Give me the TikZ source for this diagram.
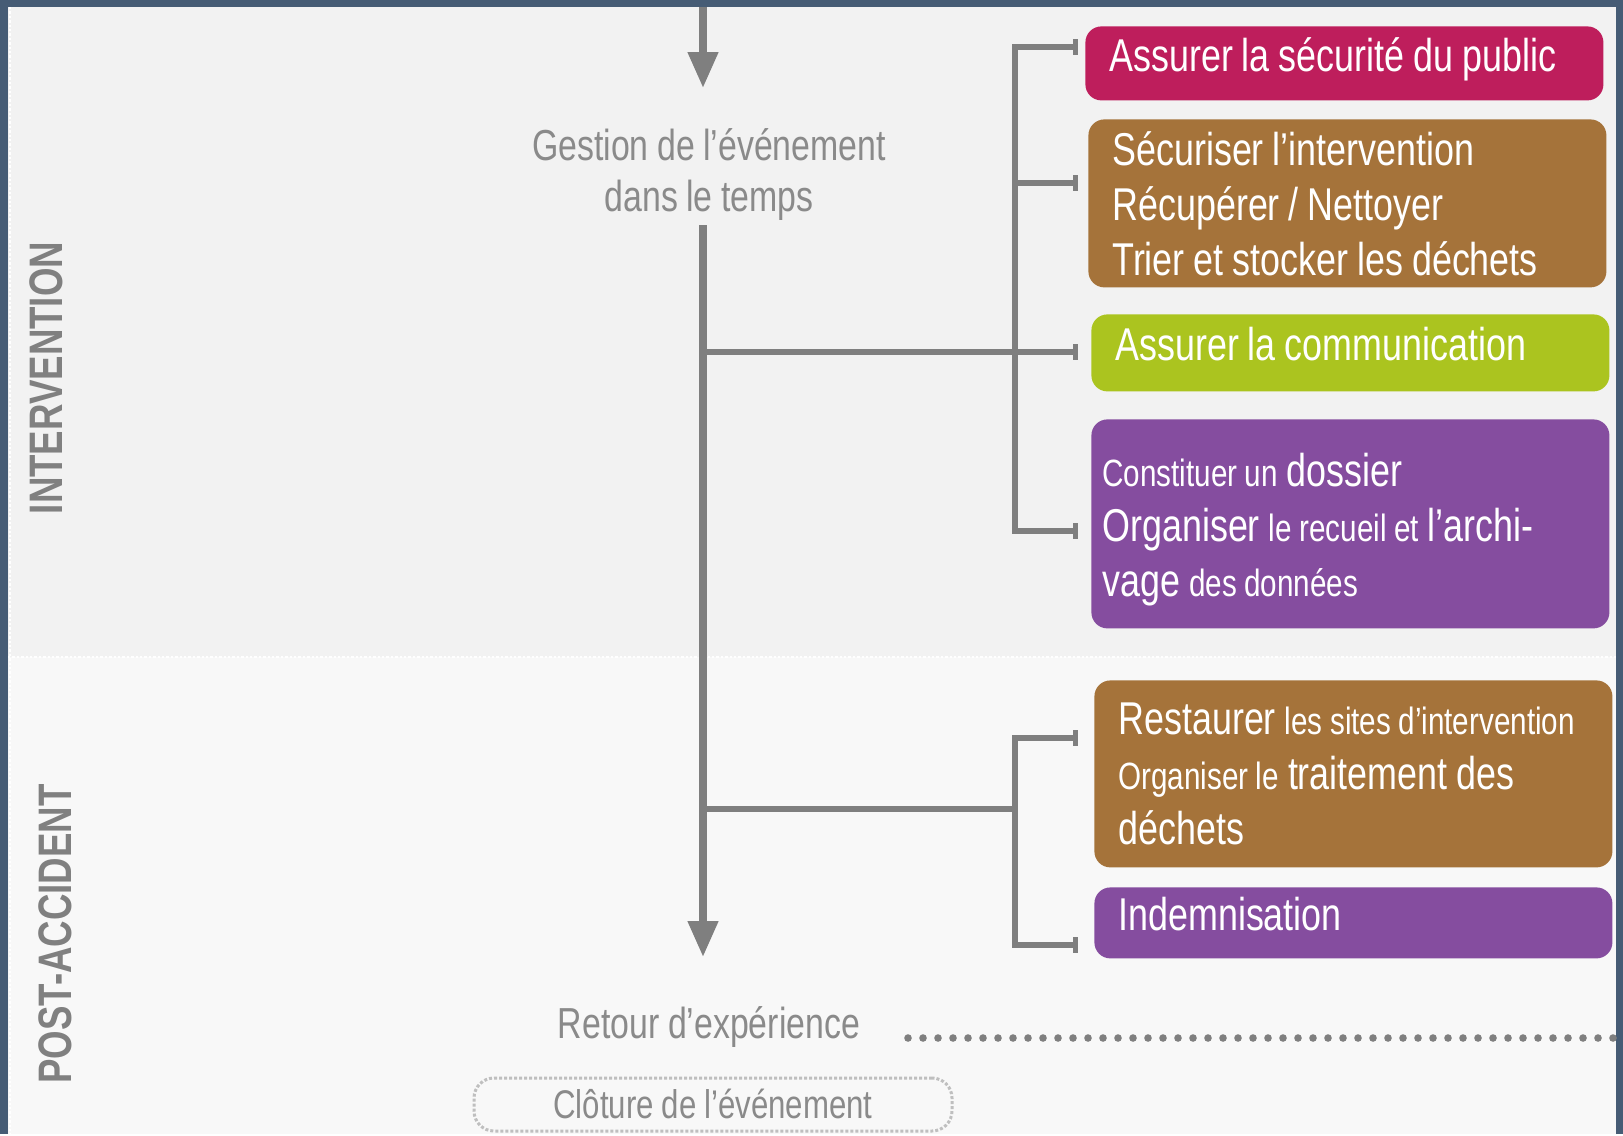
\documentclass[tikz,border=0pt]{standalone}
\usepackage{fontspec}
\setmainfont{Liberation Sans}[FakeStretch=0.78, WordSpace=0.9]
\usetikzlibrary{arrows.meta}

\definecolor{frameblue}{HTML}{465C75}
\definecolor{bgtop}{HTML}{F2F2F2}
\definecolor{bgbottom}{HTML}{F8F8F8}
\definecolor{linegray}{HTML}{7F7F7F}
\definecolor{textgray}{HTML}{8A8A8A}
\definecolor{phasegray}{HTML}{808080}
\definecolor{closegray}{HTML}{BFBFBF}
\definecolor{publicred}{HTML}{BE1E5C}
\definecolor{wastebrown}{HTML}{A5733A}
\definecolor{commgreen}{HTML}{ABC41F}
\definecolor{datapurple}{HTML}{854D9F}

\newcommand\bigtxt{\fontsize{23pt}{27.5pt}\selectfont}
\newcommand\smtxt[1]{{\fontsize{19pt}{27.5pt}\selectfont #1}}

\begin{document}
\begin{tikzpicture}[x=0.5pt, y=-0.5pt,
  taskbox/.style={rounded corners=8pt, anchor=north west, text=white, align=flush left,
    inner xsep=12pt, inner ysep=0pt, text width=235pt, font=\bigtxt},
  oneline/.style={text height=16pt, text depth=8pt},
  timetext/.style={text=textgray, align=center, inner sep=0pt,
    font=\fontsize{21.7pt}{25.5pt}\selectfont},
  phase/.style={text=phasegray, rotate=90, inner sep=0pt,
    font=\fontsize{23.5pt}{28pt}\selectfont\bfseries},
  trunk/.style={linegray, line width=3.8pt},
  branch/.style={linegray, line width=2.6pt},
  tick/.style={branch, -{Bar[width=8pt]}},
]
% Frame and the two phase backgrounds
\fill[frameblue] (0,0) rectangle (1623,1134);
\fill[bgtop] (8,7) rectangle (1616,657);
\fill[bgbottom] (8,657) rectangle (1616,1134);
\draw[white, line width=1.2pt, densely dotted] (8,657) -- (1616,657);
\draw[white, line width=1.2pt, densely dotted] (10,7) -- (10,1134);
\useasboundingbox (0,0) rectangle (1623,1134);

% Phase labels
\node[phase] (interv) at (46,378) {INTERVENTION};
\node[phase] (postacc) at (55,934) {POST-ACCIDENT};

% Time line
\coordinate (entry) at (703,7);
\coordinate (entrytip) at (703,88);
\coordinate (trunkend) at (703,957);
\node[timetext] (gestion) at (709,175) {Gestion de l’événement\\dans le temps};
\draw[trunk, -{Triangle[width=14.5pt,length=18pt]}] (entry) -- (entrytip);
\draw[trunk, shorten <=2pt, -{Triangle[width=14.5pt,length=18pt]}] (gestion.south -| entry) -- (trunkend);

% Intervention tasks
\node[taskbox, oneline, fill=publicred, minimum height=37pt] (public) at (1085,26)
  {Assurer la sécurité du public};
\node[taskbox, fill=wastebrown, minimum height=84pt] (secure) at (1088,119)
  {Sécuriser l’intervention\\Récupérer / Nettoyer\\Trier et stocker les déchets};
\node[taskbox, oneline, fill=commgreen, minimum height=38.5pt] (comm) at (1091,314)
  {Assurer la communication};
\node[taskbox, fill=datapurple, minimum height=104.5pt, inner xsep=5.5pt, text width=248pt] (dossier) at (1091,419)
  {\rule{0pt}{22pt}\smtxt{Constituer un} dossier\\Organiser \smtxt{le recueil et} l’archi-\\vage \smtxt{des données}};

% Post-accident tasks
\node[taskbox, fill=wastebrown, minimum height=93.5pt] (restore) at (1094,680)
  {Restaurer \smtxt{les sites d’intervention}\\\smtxt{Organiser le} traitement des\\déchets};
\node[taskbox, oneline, fill=datapurple, minimum height=35.5pt] (indemn) at (1094,887)
  {Indemnisation};

% Upper bracket
\coordinate (split) at (703,352);
\coordinate (upTop) at (1015,47);
\coordinate (tick2) at (1015,183);
\coordinate (upBot) at (1015,531);
\draw[branch, line cap=rect] (upTop) -- (upBot);
\draw[tick, shorten >=3.5pt] (upTop) -- (upTop -| public.west);
\draw[tick, shorten >=5pt] (tick2) -- (tick2 -| secure.west);
\draw[tick, shorten >=6.5pt] (split) -- (split -| comm.west);
\draw[tick, shorten >=6.5pt] (upBot) -- (upBot -| dossier.west);

% Lower bracket
\coordinate (split2) at (703,809);
\coordinate (lowTop) at (1015,738);
\coordinate (lowBot) at (1015,945);
\draw[branch] (split2) -- (split2 -| lowTop);
\draw[branch, line cap=rect] (lowTop) -- (lowBot);
\draw[tick, shorten >=8pt] (lowTop) -- (lowTop -| restore.west);
\draw[tick, shorten >=8pt] (lowBot) -- (lowBot -| indemn.west);

% Feedback and closing
\node[timetext] (retour) at (709,1027) {Retour d’expérience};
\coordinate (dotstart) at (908,1038);
\coordinate (dotend) at (1616,1038);
\draw[linegray, line width=3.8pt, line cap=round, dash pattern=on 0pt off 7.5pt] (dotstart) -- (dotend);
\node[draw=closegray, densely dotted, line width=1.5pt, rounded corners=10pt,
  minimum width=239pt, minimum height=26.5pt, inner sep=0pt, text=textgray,
  text height=14.3pt, text depth=0pt, font=\fontsize{20pt}{24pt}\selectfont] (cloture) at (713,1104.5)
  {Clôture de l’événement};
\end{tikzpicture}
\end{document}
